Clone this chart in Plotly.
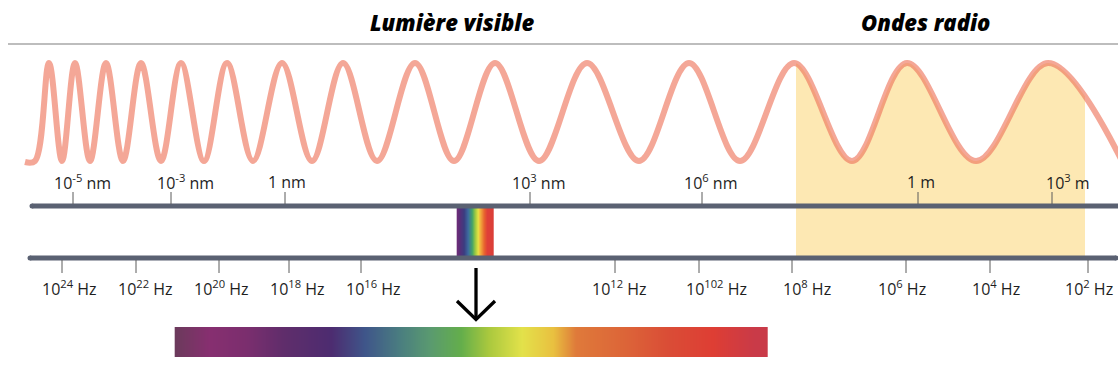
import plotly.graph_objects as go

# ---------------- data ----------------
titles = ["Lumière visible", "Ondes radio"]
title_x = [452, 925]

# wave extrema (x position, y position)
wave_x = [25, 35, 49, 62, 75, 90, 106, 123, 141, 161, 181, 204, 227, 253, 282, 312,
          343, 377, 415, 454, 495, 539, 587, 639, 689, 740, 794, 852, 907, 976, 1048, 1122]
wave_y = [162, 161, 63, 161, 63, 161, 63, 161, 63, 161, 63, 161, 63, 161, 63, 161,
          63, 161, 63, 161, 63, 161, 63, 161, 63, 161, 63, 161, 63, 161, 63, 161]

# radio band highlight
radio_band = [796, 1085]

# wavelength scale (top)
wl_labels = ["10<sup>-5</sup> nm", "10<sup>-3</sup> nm", "1 nm", "10<sup>3</sup> nm",
             "10<sup>6</sup> nm", "1 m", "10<sup>3</sup> m"]
wl_tick_x = [73, 171, 285, 530, 702, 918, 1052]
wl_label_x = [82, 185, 287, 538, 710, 921, 1068]

# frequency scale (bottom)
fq_labels = ["10<sup>24</sup> Hz", "10<sup>22</sup> Hz", "10<sup>20</sup> Hz", "10<sup>18</sup> Hz",
             "10<sup>16</sup> Hz", "10<sup>12</sup> Hz", "10<sup>102</sup> Hz", "10<sup>8</sup> Hz",
             "10<sup>6</sup> Hz", "10<sup>4</sup> Hz", "10<sup>2</sup> Hz"]
fq_tick_x = [62, 136, 219, 289, 361, 615, 699, 792, 906, 990, 1088]
fq_label_x = [69, 145, 221, 297, 373, 619, 716, 807, 902, 996, 1089]

# visible band on the scale
band_pos = [457, 460, 463.5, 467.5, 471.5, 475, 477.5, 480, 483.5, 487, 493]
band_colors = ['#6A2C78', '#56307A', '#3B3D80', '#3D6CA0', '#43A36A', '#9AC843',
               '#E6E244', '#F2B23E', '#E8652F', '#E04038', '#DB3E38']

# enlarged visible spectrum
grad_pos = [175, 209, 247, 285, 331, 365, 400, 430, 461, 488, 522, 553, 576, 629, 668, 713, 755, 767]
grad_colors = ['#6C3A5C', '#872F70', '#7B2E6E', '#5F2D6B', '#4D2C70', '#3F568A', '#4A7E80',
               '#5A9A70', '#64AE4C', '#A9C83E', '#E3E24A', '#E9C140', '#DF7A3A', '#DC6338',
               '#DA4D36', '#DE3E34', '#C93A48', '#C93A48']

# ---------------- styles ----------------
W, H = 1118, 374
WAVE = 'rgba(238,120,95,0.65)'
YELLOW = '#FDE8B3'
AXIS = '#5A6172'
TICK = '#5A5A5A'
LABEL_FONT = dict(family="Open Sans", size=16, color="#1E1E1E")

fig = go.Figure()

# --- subplot xy : yellow fill under the wave, clipped to the radio band ---
fig.add_trace(go.Scatter(x=[wave_x[0], wave_x[-1]], y=[256, 256], mode='lines',
                         line=dict(width=0, color=YELLOW), hoverinfo='skip',
                         xaxis='x', yaxis='y'))
fig.add_trace(go.Scatter(x=wave_x, y=wave_y, mode='lines', line_shape='spline',
                         line=dict(width=0, color=YELLOW), fill='tonexty', fillcolor=YELLOW,
                         hoverinfo='skip', xaxis='x', yaxis='y'))

# --- subplot x2y2 : everything else ---
def seg_trace(xs, ys, color, width):
    return go.Scatter(x=xs, y=ys, mode='lines', line=dict(color=color, width=width),
                      hoverinfo='skip', xaxis='x2', yaxis='y2')

# header rule
fig.add_trace(seg_trace([8, W], [44, 44], '#BDBDBD', 2))

# wave
fig.add_trace(go.Scatter(x=wave_x, y=wave_y, mode='lines', line_shape='spline',
                         line=dict(color=WAVE, width=6), hoverinfo='skip',
                         xaxis='x2', yaxis='y2'))

# gradients drawn as smoothed heatmaps
def gradient(pos, cols, y_edges):
    p0, p1 = pos[0], pos[-1]
    xs = [p0, p0 + 0.6] + pos[1:-1] + [p1 - 0.6, p1]
    cs = [[(p - p0) / (p1 - p0), c] for p, c in zip(pos, cols)]
    return go.Heatmap(x=xs, y=y_edges, z=[xs, xs], zmin=p0, zmax=p1, colorscale=cs,
                      zsmooth='best', showscale=False, hoverinfo='skip',
                      xaxis='x2', yaxis='y2')

fig.add_trace(gradient(band_pos, band_colors, [208, 232, 256]))
fig.add_trace(gradient(grad_pos, grad_colors, [327, 342, 357]))

# scale lines
fig.add_trace(seg_trace([32, W], [206, 206], AXIS, 5))
fig.add_trace(seg_trace([30, 1116], [258, 258], AXIS, 5))
fig.add_trace(go.Scatter(x=[32, 30, 1116], y=[206, 258, 258], mode='markers',
                         marker=dict(color=AXIS, size=5), hoverinfo='skip',
                         xaxis='x2', yaxis='y2'))

# ticks
tx, ty = [], []
for x in wl_tick_x:
    tx += [x, x, None]
    ty += [192, 204, None]
for x in fq_tick_x:
    tx += [x, x, None]
    ty += [260, 273, None]
fig.add_trace(seg_trace(tx, ty, TICK, 1))

# arrow
fig.add_trace(seg_trace([476, 476, None, 457, 476, 495], [268, 319, None, 301, 319.5, 301],
                        '#000000', 3.3))

# ---------------- text ----------------
annos = []
for t, x in zip(titles, title_x):
    annos.append(dict(text=t, x=x, y=22, xref='x2', yref='y2', showarrow=False,
                      xanchor='center', yanchor='middle',
                      font=dict(family="Open Sans", size=22, color='#000000',
                                weight=800, style='italic')))
for t, x in zip(wl_labels, wl_label_x):
    annos.append(dict(text=t, x=x, y=182, xref='x2', yref='y2', showarrow=False,
                      xanchor='center', yanchor='middle', font=LABEL_FONT))
for t, x in zip(fq_labels, fq_label_x):
    annos.append(dict(text=t, x=x, y=288, xref='x2', yref='y2', showarrow=False,
                      xanchor='center', yanchor='middle', font=LABEL_FONT))

fig.update_layout(
    width=W, height=H, margin=dict(l=0, r=0, t=0, b=0),
    paper_bgcolor='white', plot_bgcolor='rgba(0,0,0,0)', showlegend=False,
    xaxis=dict(domain=[radio_band[0] / W, radio_band[1] / W], range=radio_band,
               visible=False, fixedrange=True),
    yaxis=dict(domain=[0, 1], range=[H, 0], visible=False, fixedrange=True),
    xaxis2=dict(domain=[0, 1], range=[0, W], visible=False, anchor='y2', fixedrange=True),
    yaxis2=dict(domain=[0, 1], range=[H, 0], visible=False, anchor='x2', fixedrange=True),
    annotations=annos,
)

fig.write_html("out.html", config={'displayModeBar': False},
               post_script="document.body.style.margin='0px';document.body.style.overflow='hidden';")
